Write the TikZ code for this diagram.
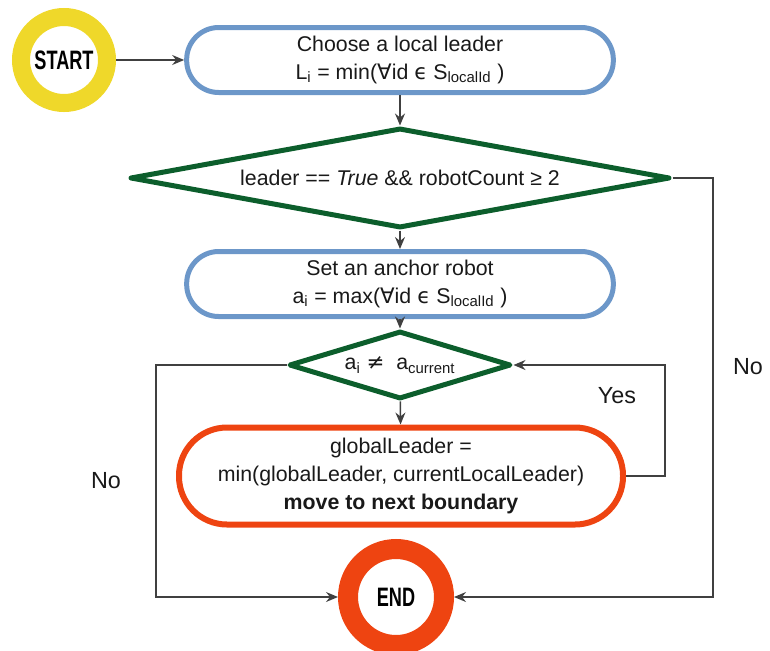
\documentclass[tikz,border=0pt]{standalone}
\usepackage{fontspec}
\usepackage{graphicx}
\setmainfont{Liberation Sans}
\newfontfamily\symfont{DejaVu Sans}
\usetikzlibrary{shapes.geometric,arrows.meta}

\definecolor{ringyellow}{RGB}{239,216,42}
\definecolor{boxblue}{RGB}{108,151,201}
\definecolor{checkgreen}{RGB}{12,94,44}
\definecolor{endorange}{RGB}{238,68,17}
\definecolor{flowgray}{RGB}{64,64,64}

\tikzset{every picture/.style={line width=0.75pt}}
\tikzset{
  bodytext/.style={font=\fontsize{16}{21}\selectfont, align=center, inner sep=0pt, text=black!90},
  ringtext/.style={circle, inner sep=0pt, font=\fontsize{20}{20}\selectfont\bfseries},
  startring/.style={ringtext, draw=ringyellow, line width=13.5pt, minimum size=64.5pt},
  endring/.style={ringtext, draw=endorange, line width=15pt, minimum size=72pt},
  process/.style={bodytext, rectangle, draw=boxblue, line width=3.75pt, rounded corners=24pt, minimum width=320pt, minimum height=48.75pt},
  updatebox/.style={bodytext, rectangle, draw=endorange, line width=4.5pt, rounded corners=36pt, minimum width=333pt, minimum height=72.75pt},
  decision/.style={bodytext, diamond, draw=checkgreen, line width=3.75pt, line join=round},
  branchlabel/.style={font=\fontsize{17.5}{18}\selectfont, inner sep=0pt, text=black!90},
  flow/.style={draw=flowgray, line width=1.1pt, -{Stealth[length=9pt, width=7.5pt, inset=3pt]}}
}

\begin{document}
\begin{tikzpicture}[x=0.75pt,y=0.75pt,yscale=-1,xscale=1]
\useasboundingbox (0,0) rectangle (770,650);

% Start Node
\node [startring] (start) at (64,60) {\scalebox{0.68}[1]{START}};
% Process: choose leader
\node [process] (choose) at (400,60) {Choose a local leader\\L\textsubscript{i} = min({\symfont ∀}id {\symfont ϵ} S\textsubscript{localId} )};
% Decision: leader check
\node [decision, shape aspect=5.4, minimum width=405pt, minimum height=75pt] (leadcheck) at (400,178) {leader == \textit{True} \&\& robotCount ≥ 2};
% Process: anchor robot
\node [process] (anchor) at (400,284) {Set an anchor robot\\a\textsubscript{i} = max({\symfont ∀}id {\symfont ϵ} S\textsubscript{localId} )};
% Decision: anchor check
\node [decision, shape aspect=3.2, minimum width=166.5pt, minimum height=51pt] (anchorcheck) at (400,365) {a\textsubscript{i} {\symfont ≠}\ \ a\textsubscript{current}};
% Process: update global leader
\node [updatebox] (update) at (401,476) {globalLeader =\\min(globalLeader, currentLocalLeader)\\\textbf{move to next boundary}};
% End Node
\node [endring] (finish) at (396,597) {\scalebox{0.68}[1]{END}};

% Bends
\coordinate (rnobend) at (713,178);
\coordinate (lnobend) at (156,365);
\coordinate (yesbend) at (665,476);

% Connectors
\draw [flow] (start.east) -- (choose.west);
\draw [flow] (choose) -- (leadcheck);
\draw [flow] (leadcheck) -- (anchor);
\draw [flow] (anchor) -- (anchorcheck);
\draw [flow] (anchorcheck) -- (update);
\draw [flow] (update.east) -- (yesbend) |- (anchorcheck.east);
\draw [flow] (anchorcheck.west) -- (lnobend) |- (finish.west);
\draw [flow] (leadcheck.east) -- (rnobend) |- (finish.east);

% Text Node
\node [branchlabel] (noright) at (748,367) {No};
% Text Node
\node [branchlabel] (noleft) at (106,481) {No};
% Text Node
\node [branchlabel] (yeslabel) at (617,396) {Yes};

\end{tikzpicture}
\end{document}
